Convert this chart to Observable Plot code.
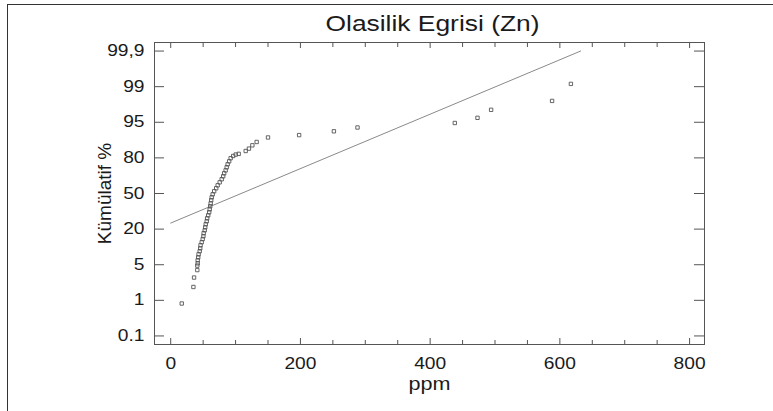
<!DOCTYPE html>
<html><head><meta charset="utf-8">
<script src="https://cdn.jsdelivr.net/npm/d3@7"></script>
<script src="https://cdn.jsdelivr.net/npm/@observablehq/plot@0.6"></script>
<style>
body{margin:0;background:#fff;}
#wrap{position:relative;width:773px;height:411px;overflow:hidden;}
#border{position:absolute;left:7px;top:4px;width:800px;height:420px;border-top:1px solid #333;border-left:1px solid #333;pointer-events:none;}
#chart{position:absolute;left:0;top:0;}
</style></head><body><div id="wrap"><div id="chart"></div><div id="border"></div></div>
<script>
const title = "Olasilik Egrisi (Zn)";
const xLabel = "ppm";
const yLabel = "Kümülatif %";
const yTickValues = [0.1, 1, 5, 20, 50, 80, 95, 99, 99.9];
const yTickLabels = ["0.1", "1", "5", "20", "50", "80", "95", "99", "99,9"];
const xTickValues = [0, 200, 400, 600, 800];
const xMinorTicks = [50, 100, 150, 250, 300, 350, 450, 500, 550, 650, 700, 750];

const ppm = [17, 35, 36, 41, 41,
  41.6, 41.6, 42.4, 43, 44.7, 45.5, 46, 47.8, 49.3, 50.4,
  50.8, 52.4, 53.2, 54, 55.5, 56.2, 57.8, 59.3, 60.1, 60.9,
  61.6, 62.4, 63.2, 64.7, 67, 70.1, 72.4, 75.5, 78.6, 80.9,
  82.4, 84.7, 86.3, 87.8, 90.1, 92.4, 96.3, 100.2, 104.8,
  115.6, 120.6, 125.9, 132.5, 150, 198, 251.6, 288, 438, 473, 494, 588, 617];
const cumPct = [0.92, 2.5, 3.56, 4.4, 4.9,
  5.6, 6.9, 8.1, 9.4, 10.7, 11.9, 13.2, 14.5, 15.8, 17.0,
  18.3, 19.5, 21.5, 24.1, 26.6, 29.1, 31.6, 34.2, 36.7, 39.2,
  41.7, 44.3, 46.8, 49.3, 51.9, 54.4, 56.9, 59.4, 62.0, 64.5,
  67.0, 69.5, 72.1, 74.6, 77.1, 79.7, 80.8, 81.4, 81.7,
  82.9, 83.9, 85.3, 86.7, 88.6, 89.6, 91.2, 92.8, 94.7, 95.5, 96.4, 97.4, 99.07];
const fitPpm = [0, 632];
const fitPct = [25.1, 99.9];

// equally spaced probability labels (piecewise mapping)
const toIdx = d3.scaleLinear().domain(yTickValues).range(d3.range(yTickValues.length));
const yIdx = d3.range(yTickValues.length);

const points = ppm.map((x, i) => ({x, p: cumPct[i]}));
const fit = fitPpm.map((x, i) => ({x, p: fitPct[i]}));

const W = 773, H = 411, mL = 154, mR = 69, mT = 42, mB = 67;
const pw = W - mL - mR, ph = H - mT - mB;
const ink = "#555";

const chart = Plot.plot({
  width: W, height: H,
  marginLeft: mL, marginRight: mR, marginTop: mT, marginBottom: mB,
  style: {fontFamily: "'Liberation Sans', Arial, sans-serif", background: "transparent", color: "#1a1a1a", overflow: "visible"},
  x: {domain: [-25, 823]},
  y: {domain: [-0.24, 8.24]},
  marks: [
    Plot.line(fit, {x: "x", y: d => toIdx(d.p), stroke: "#8a8a8a", strokeWidth: 1}),
    Plot.dot(points, {x: "x", y: d => toIdx(d.p), symbol: "square", r: 1.9, stroke: "#555", strokeWidth: 0.9, fill: "none"}),
    Plot.frame({stroke: ink}),
    Plot.tickY(yIdx, {y: d => d, insetRight: pw - 10, stroke: ink}),
    Plot.tickY(yIdx, {y: d => d, insetLeft: pw - 10, stroke: ink}),
    Plot.tickX(xTickValues, {x: d => d, insetBottom: ph - 6, stroke: ink}),
    Plot.tickX(xTickValues, {x: d => d, insetTop: ph - 6, stroke: ink}),
    Plot.tickX(xMinorTicks, {x: d => d, insetBottom: ph - 5, stroke: ink}),
    Plot.tickX(xMinorTicks, {x: d => d, insetTop: ph - 4, stroke: ink}),
    Plot.axisY(yIdx, {anchor: "left", tickSize: 0, tickPadding: 10, fontSize: 16, tickFormat: d => yTickLabels[Math.round(d)], label: null, className: "stretch"}),
    Plot.axisX(xTickValues, {anchor: "bottom", tickSize: 0, tickPadding: 13, fontSize: 16, label: null, className: "stretch"}),
    Plot.text([yLabel], {frameAnchor: "left", dx: -50, rotate: -90, textAnchor: "middle", lineAnchor: "middle", fontSize: 19}),
    Plot.text([xLabel], {frameAnchor: "bottom", dy: 40, textAnchor: "middle", lineAnchor: "middle", fontSize: 18, className: "stretch"}),
    Plot.text([title], {frameAnchor: "top", dx: 3, dy: -19, textAnchor: "middle", lineAnchor: "middle", fontSize: 22, className: "stretch"})
  ]
});
// widen the glyphs horizontally, like the reference rendering
chart.querySelectorAll(".stretch text").forEach(t => {
  const tr = t.getAttribute("transform");
  if (tr && tr.includes("translate")) t.setAttribute("transform", tr + " scale(1.2,1)");
});
document.getElementById("chart").append(chart);
</script>
</body></html>
